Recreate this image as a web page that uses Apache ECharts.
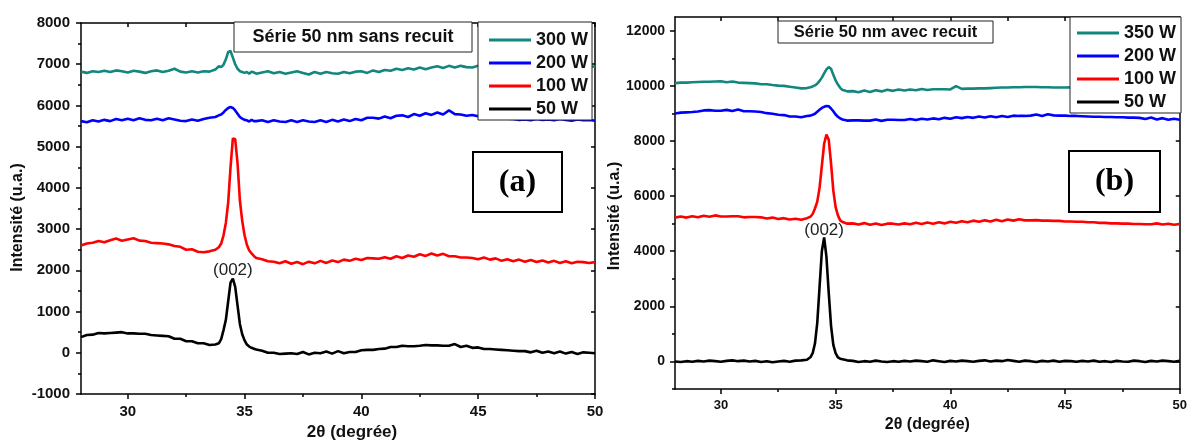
<!DOCTYPE html>
<html>
<head>
<meta charset="utf-8">
<script src="https://cdn.jsdelivr.net/npm/echarts@6/dist/echarts.min.js"></script>
<style>
html,body{margin:0;padding:0;background:#fff;}
#chart{width:1190px;height:446px;}
</style>
</head>
<body>
<div id="chart"></div>
<script>
// 2θ sample positions (degrees)
const twoTheta = [
28.0,28.25,28.5,28.75,29.0,29.25,29.5,29.75,30.0,30.25,30.5,30.75,31.0,31.25,31.5,31.75,32.0,32.25,32.5,32.75,33.0,33.25,33.5,33.75,
33.9,34.0,34.1,34.2,34.3,34.4,34.5,34.6,34.7,34.8,34.9,35.0,35.1,35.2,35.3,35.4,35.5,
35.75,36.0,36.25,36.5,36.75,37.0,37.25,37.5,37.75,38.0,
38.25,38.5,38.75,39.0,39.25,39.5,39.75,40.0,40.25,40.5,
40.75,41.0,41.25,41.5,41.75,42.0,42.25,42.5,42.75,43.0,
43.25,43.5,43.75,44.0,44.25,44.5,44.75,45.0,45.25,45.5,
45.75,46.0,46.25,46.5,46.75,47.0,47.25,47.5,47.75,48.0,
48.25,48.5,48.75,49.0,49.25,49.5,49.75,50.0
];

// (a) Série 50 nm sans recuit
const a300W = [
6820,6790,6830,6810,6840,6810,6850,6830,6800,6840,6820,6790,6830,6850,6810,6840,6890,6820,6800,6830,6800,6830,6820,6870,
6950,6930,6990,7120,7300,7320,7160,7000,6890,6830,6810,6790,6810,6770,6820,6800,6770,
6800,6830,6780,6810,6770,6800,6830,6790,6750,6810,
6770,6810,6780,6770,6810,6780,6820,6830,6790,6850,
6810,6860,6840,6890,6860,6900,6870,6920,6880,6920,
6950,6910,6960,6920,6960,6930,6920,6960,6930,6930,
6960,6940,6950,6930,6960,6940,6950,6930,6960,6940,
6950,6930,6960,6940,6950,6930,6950,6940
];
const a200W = [
5620,5590,5640,5610,5650,5620,5670,5640,5680,5640,5690,5650,5640,5680,5640,5690,5660,5630,5620,5660,5630,5670,5700,5720,
5760,5780,5830,5890,5940,5960,5940,5880,5800,5720,5680,5650,5640,5610,5650,5620,5620,
5640,5600,5640,5610,5600,5640,5600,5640,5610,5600,
5640,5600,5650,5610,5660,5620,5670,5640,5700,5700,
5680,5730,5690,5750,5760,5720,5790,5750,5810,5770,
5830,5780,5880,5790,5780,5750,5770,5740,5760,5740,
5720,5700,5680,5670,5650,5660,5640,5670,5650,5660,
5640,5670,5650,5630,5660,5640,5650,5630
];
const a100W = [
2600,2650,2670,2710,2680,2730,2770,2720,2750,2780,2720,2710,2670,2660,2650,2630,2590,2570,2500,2510,2450,2440,2460,2500,
2560,2650,2850,3150,3650,4500,5200,5180,4600,3700,3200,2850,2620,2480,2410,2350,2300,
2270,2220,2210,2170,2220,2160,2200,2150,2210,2170,
2230,2180,2240,2200,2260,2230,2280,2250,2300,2290,
2280,2320,2280,2340,2300,2360,2330,2390,2350,2410,
2360,2400,2340,2340,2310,2310,2300,2270,2310,2260,
2290,2230,2270,2220,2260,2210,2250,2200,2240,2190,
2230,2180,2220,2170,2210,2200,2180,2200
];
const a50W = [
380,430,440,480,470,480,490,500,470,470,460,460,430,420,410,400,340,340,280,280,230,230,190,200,
230,330,550,800,1250,1700,1800,1600,1150,700,450,300,200,150,120,100,80,
50,0,0,-30,-20,-10,-30,20,-40,0,
-10,30,-20,40,-10,20,20,60,70,70,
90,100,140,140,170,160,160,170,190,180,
180,170,170,210,140,170,120,130,90,90,
80,70,60,50,40,40,10,50,0,30,
-10,30,-20,20,-30,10,0,-10
];

// (b) Série 50 nm avec recuit
const b350W = [
10100,10120,10120,10130,10140,10150,10150,10160,10170,10130,10160,10120,10110,10100,10090,10060,10060,10030,10010,10000,9970,9940,9910,9920,
9950,9980,10020,10080,10180,10300,10450,10600,10680,10620,10400,10200,10050,9930,9850,9830,9800,
9810,9770,9830,9780,9840,9800,9860,9820,9870,9830,
9870,9840,9890,9850,9880,9880,9880,9870,9990,9890,
9900,9900,9910,9910,9920,9930,9940,9940,9950,9950,
9960,9960,9960,9950,9950,9940,9940,9940,9950,9920,
9940,9930,9950,9940,9930,9950,9940,9930,9950,9940,
9930,9950,9940,9930,9950,9940,9930,9940
];
const b200W = [
9000,9030,9040,9050,9070,9110,9120,9100,9100,9130,9090,9140,9080,9080,9070,9050,9010,8990,8950,8940,8890,8890,8860,8910,
8920,8950,8990,9060,9130,9200,9240,9270,9260,9180,9080,8960,8880,8820,8780,8760,8740,
8750,8750,8740,8740,8780,8730,8770,8770,8760,8760,
8800,8760,8810,8780,8820,8790,8840,8810,8860,8830,
8870,8840,8890,8850,8900,8860,8910,8870,8920,8910,
8910,8920,8960,8910,8970,8930,8920,8920,8910,8910,
8900,8890,8880,8880,8870,8870,8860,8860,8850,8850,
8840,8800,8850,8780,8830,8770,8810,8770
];
const b100W = [
5220,5260,5220,5270,5230,5290,5250,5300,5260,5260,5270,5270,5230,5240,5240,5230,5190,5220,5170,5200,5150,5180,5140,5200,
5250,5350,5550,5800,6300,7100,7900,8230,8050,7200,6200,5600,5300,5120,5060,5030,5000,
5010,4970,5020,4960,5010,4950,5000,5000,4970,5010,
4980,5030,4990,5040,5000,5050,5010,5070,5030,5090,
5050,5110,5070,5120,5080,5140,5090,5150,5110,5160,
5120,5120,5130,5110,5110,5100,5100,5080,5080,5070,
5070,5050,5050,5030,5030,5010,5010,5000,5000,4990,
4990,4980,4980,5010,4970,5000,4960,4990
];
const b50W = [
0,-20,10,-10,20,0,30,10,-10,20,40,10,30,0,20,-20,10,-30,0,20,-10,30,40,60,
150,300,650,1400,2700,4000,4500,3800,2500,1300,600,300,150,100,80,60,40,
20,-20,10,-10,30,0,-20,10,-10,20,
0,30,10,-10,40,10,-20,20,0,30,
10,-10,20,40,0,30,10,50,20,-10,
30,10,-20,20,0,30,-10,20,10,-10,
20,0,30,-10,10,-20,20,0,-10,30,
10,-20,20,0,30,10,-10,20
];

// tick values
const xTickLabels = [30, 35, 40, 45, 50];
const xMinorTicks = [30, 32.5, 35, 37.5, 40, 42.5, 45, 47.5, 50];
const yRightTickLabels = [0, 2000, 4000, 6000, 8000, 10000, 12000];
const yRightMinorTicks = [-1000, 1000, 3000, 5000, 7000, 9000, 11000];

// peak annotation
const peakLabel = '(002)';
const peakA = [34.5, 1800];
const peakB = [34.5, 4500];

const legendA = ['300 W', '200 W', '100 W', '50 W'];
const legendB = ['350 W', '200 W', '100 W', '50 W'];
const colors = {teal: '#13877f', blue: '#0000ff', red: '#ff0000', black: '#000000'};

function pairs(ys) {
  if (ys.length !== twoTheta.length) throw new Error('length mismatch ' + ys.length);
  return twoTheta.map((v, i) => [v, ys[i]]);
}

const FONT = '"Liberation Sans", Arial, sans-serif';
const AX = {color: '#000', width: 1.5};
const plain = v => String(v);

function xAxes(grid, labelSize) {
  return [
    {gridIndex: grid, type: 'value', min: 28, max: 50, position: 'bottom',
     axisLine: {show: true, onZero: false, lineStyle: AX},
     axisTick: {show: true, length: 5, customValues: xTickLabels, lineStyle: AX},
     axisLabel: {customValues: xTickLabels, formatter: plain, fontFamily: FONT, fontWeight: 'bold', fontSize: labelSize, color: '#111', margin: 10},
     splitLine: {show: false}},
    {gridIndex: grid, type: 'value', min: 28, max: 50, position: 'bottom',
     axisLine: {show: false, onZero: false},
     axisTick: {show: true, length: 3, customValues: xMinorTicks, lineStyle: AX},
     axisLabel: {show: false}, splitLine: {show: false}},
    {gridIndex: grid, type: 'value', min: 28, max: 50, position: 'top',
     axisLine: {show: true, onZero: false, lineStyle: AX},
     axisTick: {show: true, inside: true, length: 4, customValues: xMinorTicks, lineStyle: AX},
     axisLabel: {show: false}, splitLine: {show: false}}
  ];
}

const option = {
  animation: false,
  backgroundColor: '#fff',
  grid: [
    {left: 81, top: 23, width: 514, height: 374},
    {left: 675, top: 17, width: 507, height: 372}
  ],
  xAxis: [
    ...xAxes(0, 15).map((a, i) => i === 0 ? Object.assign(a, {name: '2θ (degrée)', nameLocation: 'middle', nameGap: 30,
      nameTextStyle: {fontFamily: FONT, fontWeight: 'bold', fontSize: 17, color: '#111', padding: [0, 0, 0, 28]}}) : a),
    ...xAxes(1, 13).map((a, i) => i === 0 ? Object.assign(a, {name: '2θ (degrée)', nameLocation: 'middle', nameGap: 27,
      nameTextStyle: {fontFamily: FONT, fontWeight: 'bold', fontSize: 16, color: '#111'}}) : a)
  ],
  yAxis: [
    {gridIndex: 0, type: 'value', min: -1000, max: 8000, interval: 1000, position: 'left',
     name: 'Intensité (u.a.)', nameLocation: 'middle', nameGap: 55,
     nameTextStyle: {fontFamily: FONT, fontWeight: 'bold', fontSize: 16, color: '#111', padding: [0, 18, 0, 0]},
     axisLine: {show: true, onZero: false, lineStyle: AX},
     axisTick: {show: true, length: 5, lineStyle: AX},
     minorTick: {show: true, splitNumber: 2, length: 3, lineStyle: AX},
     axisLabel: {formatter: plain, fontFamily: FONT, fontWeight: 'bold', fontSize: 15, color: '#111', margin: 11},
     splitLine: {show: false}},
    {gridIndex: 0, type: 'value', min: -1000, max: 8000, interval: 1000, position: 'right',
     axisLine: {show: true, onZero: false, lineStyle: AX},
     axisTick: {show: true, inside: true, length: 4, lineStyle: AX},
     axisLabel: {show: false}, splitLine: {show: false}},
    {gridIndex: 1, type: 'value', min: -1000, max: 12500, position: 'left',
     name: 'Intensité (u.a.)', nameLocation: 'middle', nameGap: 44,
     nameTextStyle: {fontFamily: FONT, fontWeight: 'bold', fontSize: 16, color: '#111', padding: [0, 26, 0, 0]},
     axisLine: {show: true, onZero: false, lineStyle: AX},
     axisTick: {show: true, length: 5, customValues: yRightTickLabels, lineStyle: AX},
     axisLabel: {customValues: yRightTickLabels, formatter: plain, fontFamily: FONT, fontWeight: 'bold', fontSize: 14, color: '#111', margin: 10},
     splitLine: {show: false}},
    {gridIndex: 1, type: 'value', min: -1000, max: 12500, position: 'left',
     axisLine: {show: false, onZero: false},
     axisTick: {show: true, length: 3, customValues: yRightMinorTicks, lineStyle: AX},
     axisLabel: {show: false}, splitLine: {show: false}},
    {gridIndex: 1, type: 'value', min: -1000, max: 12500, position: 'right',
     axisLine: {show: true, onZero: false, lineStyle: AX},
     axisTick: {show: true, inside: true, length: 4, customValues: yRightTickLabels, lineStyle: AX},
     axisLabel: {show: false}, splitLine: {show: false}}
  ],
  legend: [
    {orient: 'vertical', left: 478, top: 22, data: legendA, icon: 'rect', itemWidth: 42, itemHeight: 3, itemGap: 5,
     padding: [9, 4, 2, 11], backgroundColor: '#fff', borderColor: '#222', borderWidth: 1, selectedMode: false,
     textStyle: {fontFamily: FONT, fontWeight: 'bold', fontSize: 18, color: '#111', lineHeight: 18}, z: 20},
    {orient: 'vertical', left: 1070, top: 17, data: legendB, icon: 'rect', itemWidth: 42, itemHeight: 3, itemGap: 5,
     padding: [7, 5, 2, 7], backgroundColor: '#fff', borderColor: '#222', borderWidth: 1, selectedMode: false,
     textStyle: {fontFamily: FONT, fontWeight: 'bold', fontSize: 18, color: '#111', lineHeight: 18}, z: 20}
  ],
  series: [
    {name: '300 W', type: 'line', xAxisIndex: 0, yAxisIndex: 0, data: pairs(a300W), color: colors.teal},
    {name: '200 W', type: 'line', xAxisIndex: 0, yAxisIndex: 0, data: pairs(a200W), color: colors.blue},
    {name: '100 W', type: 'line', xAxisIndex: 0, yAxisIndex: 0, data: pairs(a100W), color: colors.red},
    {name: '50 W', type: 'line', xAxisIndex: 0, yAxisIndex: 0, data: pairs(a50W), color: colors.black,
     markPoint: {symbol: 'circle', symbolSize: 0, data: [{coord: peakA}],
       label: {show: true, position: 'top', distance: 0, formatter: peakLabel, fontFamily: FONT, fontSize: 17, color: '#222'}}},
    {name: '350 W', type: 'line', xAxisIndex: 3, yAxisIndex: 2, data: pairs(b350W), color: colors.teal},
    {name: '200 W', type: 'line', xAxisIndex: 3, yAxisIndex: 2, data: pairs(b200W), color: colors.blue},
    {name: '100 W', type: 'line', xAxisIndex: 3, yAxisIndex: 2, data: pairs(b100W), color: colors.red},
    {name: '50 W', type: 'line', xAxisIndex: 3, yAxisIndex: 2, data: pairs(b50W), color: colors.black,
     markPoint: {symbol: 'circle', symbolSize: 0, data: [{coord: peakB}],
       label: {show: true, position: 'top', distance: -1, formatter: peakLabel, fontFamily: FONT, fontSize: 17, color: '#222'}}}
  ].map(s => Object.assign(s, {showSymbol: false, symbol: 'none', lineStyle: {width: 2.6}, z: 2})),
  graphic: [
    {type: 'rect', shape: {x: 234, y: 22, width: 238, height: 30}, style: {fill: '#fff', stroke: '#222', lineWidth: 1}, z: 30},
    {type: 'text', x: 353, y: 37, style: {text: 'Série 50 nm sans recuit', font: 'bold 18px "Liberation Sans"', fill: '#111', align: 'center', verticalAlign: 'middle'}, z: 31},
    {type: 'rect', shape: {x: 778, y: 21, width: 215, height: 22}, style: {fill: '#fff', stroke: '#222', lineWidth: 1}, z: 30},
    {type: 'text', x: 885.5, y: 32, style: {text: 'Série 50 nm avec recuit', font: 'bold 16.5px "Liberation Sans"', fill: '#111', align: 'center', verticalAlign: 'middle'}, z: 31},
    {type: 'rect', shape: {x: 473, y: 152, width: 89, height: 60}, style: {fill: '#fff', stroke: '#000', lineWidth: 2}, z: 30},
    {type: 'text', x: 517.5, y: 183, style: {text: '(a)', font: 'bold 32px "Liberation Serif"', fill: '#000', align: 'center', verticalAlign: 'middle'}, z: 31},
    {type: 'rect', shape: {x: 1069, y: 151, width: 91, height: 61}, style: {fill: '#fff', stroke: '#000', lineWidth: 2}, z: 30},
    {type: 'text', x: 1114.5, y: 182, style: {text: '(b)', font: 'bold 32px "Liberation Serif"', fill: '#000', align: 'center', verticalAlign: 'middle'}, z: 31}
  ]
};

const chart = echarts.init(document.getElementById('chart'), null, {renderer: 'canvas'});
chart.setOption(option);
</script>
</body>
</html>
